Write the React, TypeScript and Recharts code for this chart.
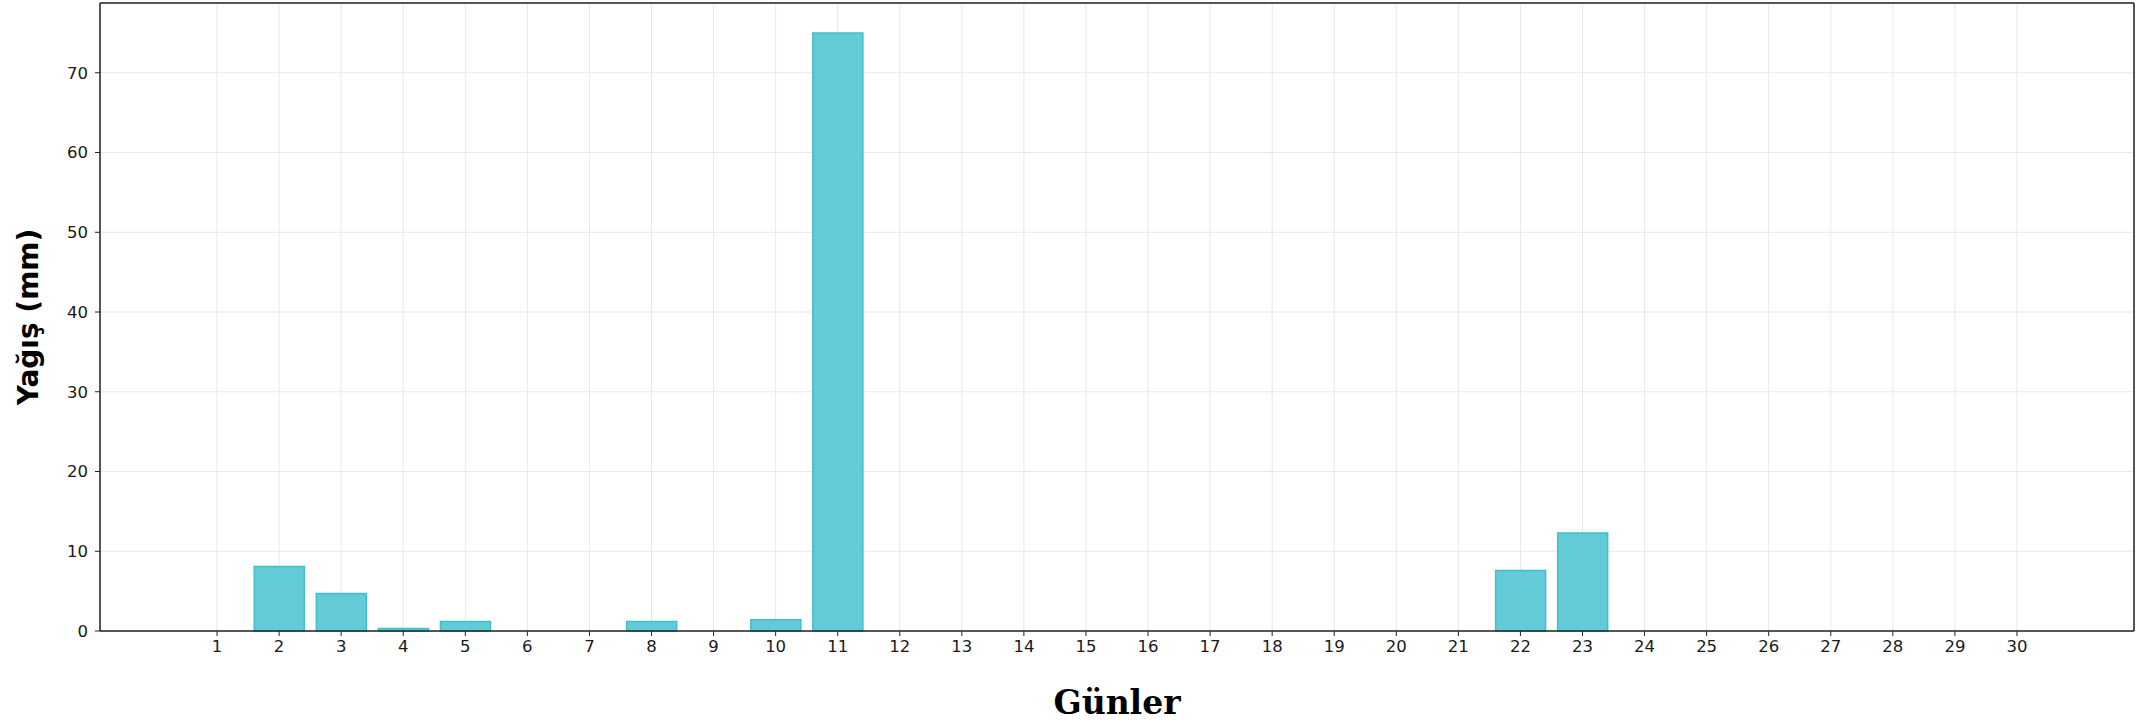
import React from 'react';
import { BarChart, Bar, XAxis, YAxis, CartesianGrid } from 'recharts';

const days = [
  '1', '2', '3', '4', '5', '6', '7', '8', '9', '10',
  '11', '12', '13', '14', '15', '16', '17', '18', '19', '20',
  '21', '22', '23', '24', '25', '26', '27', '28', '29', '30',
];
const rainfall = [
  0, 8.1, 4.7, 0.3, 1.2, 0, 0, 1.2, 0, 1.4,
  75.0, 0, 0, 0, 0, 0, 0, 0, 0, 0,
  0, 7.6, 12.3, 0, 0, 0, 0, 0, 0, 0,
];
const yTicks = [0, 10, 20, 30, 40, 50, 60, 70];

const data = days.map((d, i) => ({ day: d, rain: rainfall[i] }));

const tickStyle = { fontFamily: 'DejaVu Sans', fontSize: 16.5, fill: '#1a1a1a' };

const YLabel = (props: any) => {
  const { x, y, height } = props.viewBox || {};
  const cx = x + 28;
  const cy = y + height / 2;
  return (
    <text
      x={cx}
      y={cy}
      transform={`rotate(-90, ${cx}, ${cy})`}
      textAnchor="middle"
      dominantBaseline="central"
      style={{ fontFamily: 'DejaVu Sans', fontWeight: 'bold', fontSize: 28, fill: '#000' }}
    >
      Yağış (mm)
    </text>
  );
};

const XLabel = (props: any) => {
  const { x, y, width } = props.viewBox || {};
  return (
    <text
      x={x + width / 2}
      y={y + 83}
      textAnchor="middle"
      style={{ fontFamily: 'DejaVu Serif', fontWeight: 'bold', fontSize: 33, fill: '#000' }}
    >
      Günler
    </text>
  );
};

export default function App() {
  return (
    <div style={{ position: 'absolute', left: 0, top: 0, background: '#fff' }}>
      <BarChart
        width={2152}
        height={723}
        data={data}
        margin={{ top: 2, right: 17, bottom: 0, left: 0 }}
        barCategoryGap="10%"
      >
        <CartesianGrid stroke="#e8e8e8" strokeWidth={1} />
        <XAxis
          dataKey="day"
          interval={0}
          height={92}
          padding={{ left: 86, right: 86 }}
          tick={tickStyle}
          tickSize={5}
          tickMargin={4}
          tickLine={{ stroke: '#222' }}
          axisLine={{ stroke: '#222', strokeWidth: 1.5 }}
          label={<XLabel />}
        />
        <XAxis
          xAxisId="top"
          dataKey="day"
          orientation="top"
          height={1}
          tick={false}
          tickLine={false}
          axisLine={{ stroke: '#222', strokeWidth: 1.5 }}
        />
        <YAxis
          width={100}
          domain={[0, 78.75]}
          ticks={yTicks}
          tick={tickStyle}
          tickSize={5}
          tickMargin={7}
          tickLine={{ stroke: '#222' }}
          axisLine={{ stroke: '#222', strokeWidth: 1.5 }}
          label={<YLabel />}
        />
        <YAxis
          yAxisId="right"
          orientation="right"
          width={1}
          domain={[0, 78.75]}
          tick={false}
          tickLine={false}
          axisLine={{ stroke: '#222', strokeWidth: 1.5 }}
        />
        <Bar
          dataKey="rain"
          fill="#63cad8"
          stroke="#3ec0c9"
          strokeWidth={1.5}
          isAnimationActive={false}
        />
      </BarChart>
    </div>
  );
}
